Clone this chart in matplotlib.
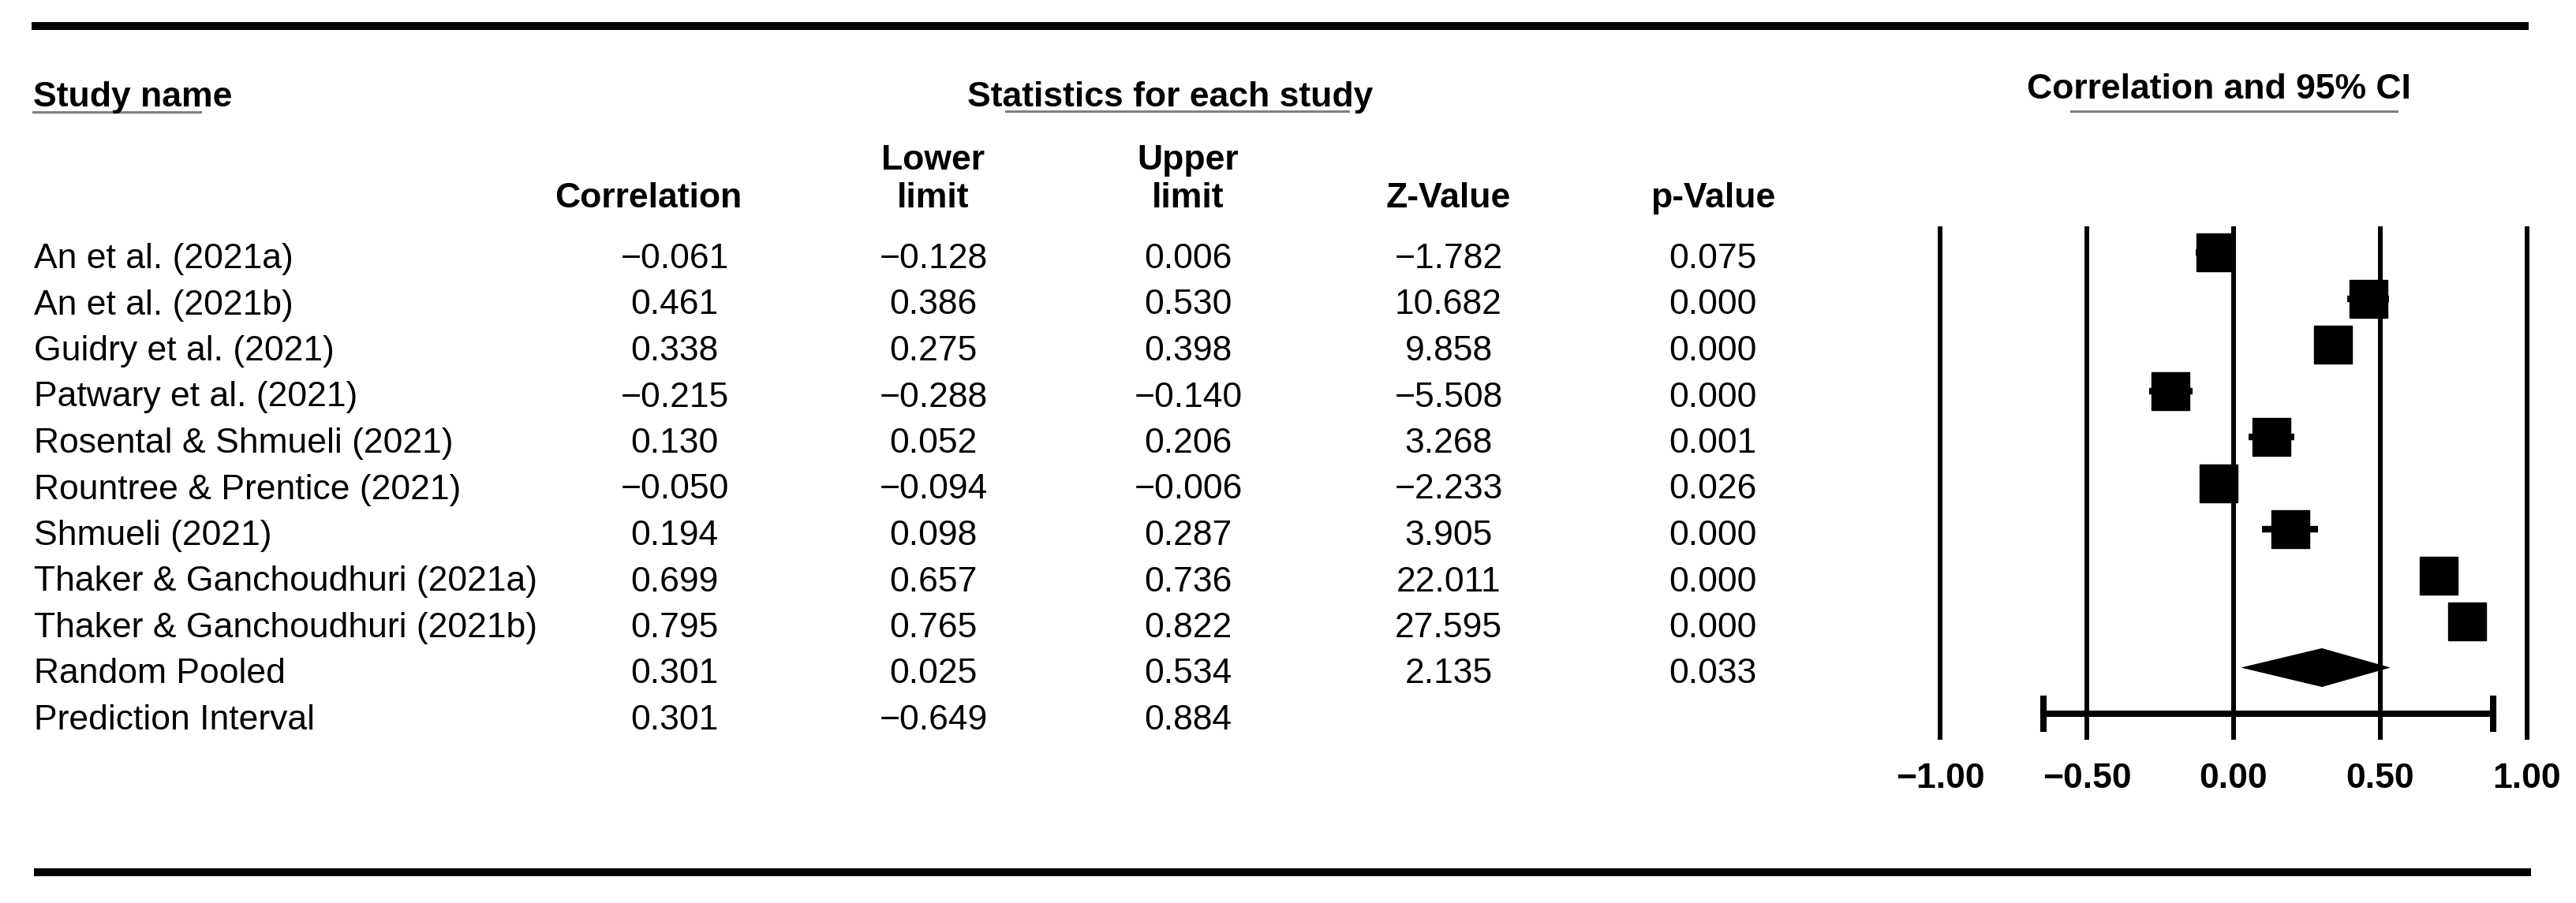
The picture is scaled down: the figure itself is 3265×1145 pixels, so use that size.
import numpy as np
import matplotlib.pyplot as plt

plt.rcParams['font.family'] = ['Liberation Sans', 'DejaVu Sans']

# data
studies = ["An et al. (2021a)", "An et al. (2021b)", "Guidry et al. (2021)",
           "Patwary et al. (2021)", "Rosental & Shmueli (2021)",
           "Rountree & Prentice (2021)", "Shmueli (2021)",
           "Thaker & Ganchoudhuri (2021a)", "Thaker & Ganchoudhuri (2021b)"]
corr = [-0.061, 0.461, 0.338, -0.215, 0.130, -0.050, 0.194, 0.699, 0.795]
lower = [-0.128, 0.386, 0.275, -0.288, 0.052, -0.094, 0.098, 0.657, 0.765]
upper = [0.006, 0.530, 0.398, -0.140, 0.206, -0.006, 0.287, 0.736, 0.822]
zval = [-1.782, 10.682, 9.858, -5.508, 3.268, -2.233, 3.905, 22.011, 27.595]
pval = [0.075, 0.000, 0.000, 0.000, 0.001, 0.026, 0.000, 0.000, 0.000]

pooled_label = "Random Pooled"
pooled = [0.301, 0.025, 0.534, 2.135, 0.033]   # r, lower, upper, Z, p
pred_label = "Prediction Interval"
pred = [0.301, -0.649, 0.884]                   # r, lower, upper

ticks = [-1.0, -0.5, 0.0, 0.5, 1.0]

W, H = 3265, 1145
FS = 32


def fmt(v):
    return f"{v:.3f}".replace("-", "\u2212")


fig = plt.figure(figsize=(W / 100, H / 100), dpi=100)

# background axes in pixel units for the table part
bg = fig.add_axes([0, 0, 1, 1])
bg.set_xlim(0, W)
bg.set_ylim(H, 0)
bg.axis('off')

# heavy rules top and bottom
bg.plot([40, 3205], [33, 33], color='black', lw=7.2, solid_capstyle='butt')
bg.plot([43, 3208], [1106, 1106], color='black', lw=7.2, solid_capstyle='butt')

# section headers with their (partial) underlines
bg.text(42, 135, "Study name", fontsize=FS, fontweight='bold', ha='left', va='baseline')
bg.plot([42, 254], [142, 142], color='#808080', lw=2.2)
bg.text(1483, 135, "Statistics for each study", fontsize=FS, fontweight='bold',
        ha='center', va='baseline')
bg.plot([1275, 1709], [141, 141], color='#808080', lw=2.2)
bg.text(2812, 125, "Correlation and 95% CI", fontsize=FS, fontweight='bold',
        ha='center', va='baseline')
bg.plot([2625, 3038], [141, 141], color='#808080', lw=2.2)

# column headers
col_x = [855, 1183, 1506, 1836, 2171]
bg.text(822, 263, "Correlation", fontsize=FS, fontweight='bold', ha='center', va='baseline')
for x, top in [(col_x[1], "Lower"), (col_x[2], "Upper")]:
    bg.text(x, 215, top, fontsize=FS, fontweight='bold', ha='center', va='baseline')
    bg.text(x, 263, "limit", fontsize=FS, fontweight='bold', ha='center', va='baseline')
bg.text(col_x[3], 263, "Z-Value", fontsize=FS, fontweight='bold', ha='center', va='baseline')
bg.text(col_x[4], 263, "p-Value", fontsize=FS, fontweight='bold', ha='center', va='baseline')

# table rows
row0, step = 320, 58.5
rows = []
for i in range(len(studies)):
    rows.append([studies[i], fmt(corr[i]), fmt(lower[i]), fmt(upper[i]),
                 fmt(zval[i]), fmt(pval[i])])
rows.append([pooled_label] + [fmt(v) for v in pooled])
rows.append([pred_label] + [fmt(v) for v in pred] + ["", ""])

for i, r in enumerate(rows):
    yb = row0 + step * i + 20
    bg.text(43, yb, r[0], fontsize=FS, ha='left', va='baseline')
    for x, s in zip(col_x, r[1:]):
        bg.text(x, yb, s, fontsize=FS, ha='center', va='baseline')

# forest plot axes
x0, x1 = 2459, 3203
ytop, ybot = 290, 935
ax = fig.add_axes([x0 / W, 1 - ybot / H, (x1 - x0) / W, (ybot - ytop) / H])
ax.set_xlim(-1, 1)
ax.set_ylim((ybot - row0) / step, (ytop - row0) / step)
for s in ax.spines.values():
    s.set_visible(False)
ax.set_yticks([])
ax.set_xticks(ticks)
ax.set_xticklabels([f"{t:.2f}".replace("-", "\u2212") for t in ticks],
                   fontsize=FS, fontweight='bold')
ax.tick_params(axis='x', length=0, pad=23)
ax.patch.set_alpha(0)

for t in ticks:
    ax.axvline(t, color='black', lw=4.3, zorder=1, clip_on=False)

ypos = np.arange(len(studies))
corr_a = np.array(corr)
ax.errorbar(corr_a, ypos,
            xerr=[corr_a - np.array(lower), np.array(upper) - corr_a],
            fmt='none', ecolor='black', elinewidth=6, capsize=0, zorder=3)
ax.plot(corr, ypos, 's', color='black', markersize=34, zorder=4, clip_on=False)

# pooled diamond
yp = len(studies)
dh = 0.42
ax.fill([pooled[1], pooled[0], pooled[2], pooled[0]],
        [yp, yp - dh, yp, yp + dh], color='black', zorder=4, lw=0)

# prediction interval
yi = len(studies) + 1
ax.plot([pred[1], pred[2]], [yi, yi], color='black', lw=5.8, zorder=4)
ax.plot([pred[1], pred[1]], [yi - 0.33, yi + 0.33], color='black', lw=5.8, zorder=4)
ax.plot([pred[2], pred[2]], [yi - 0.33, yi + 0.33], color='black', lw=5.8, zorder=4)

fig.savefig("out.png", dpi=100)
